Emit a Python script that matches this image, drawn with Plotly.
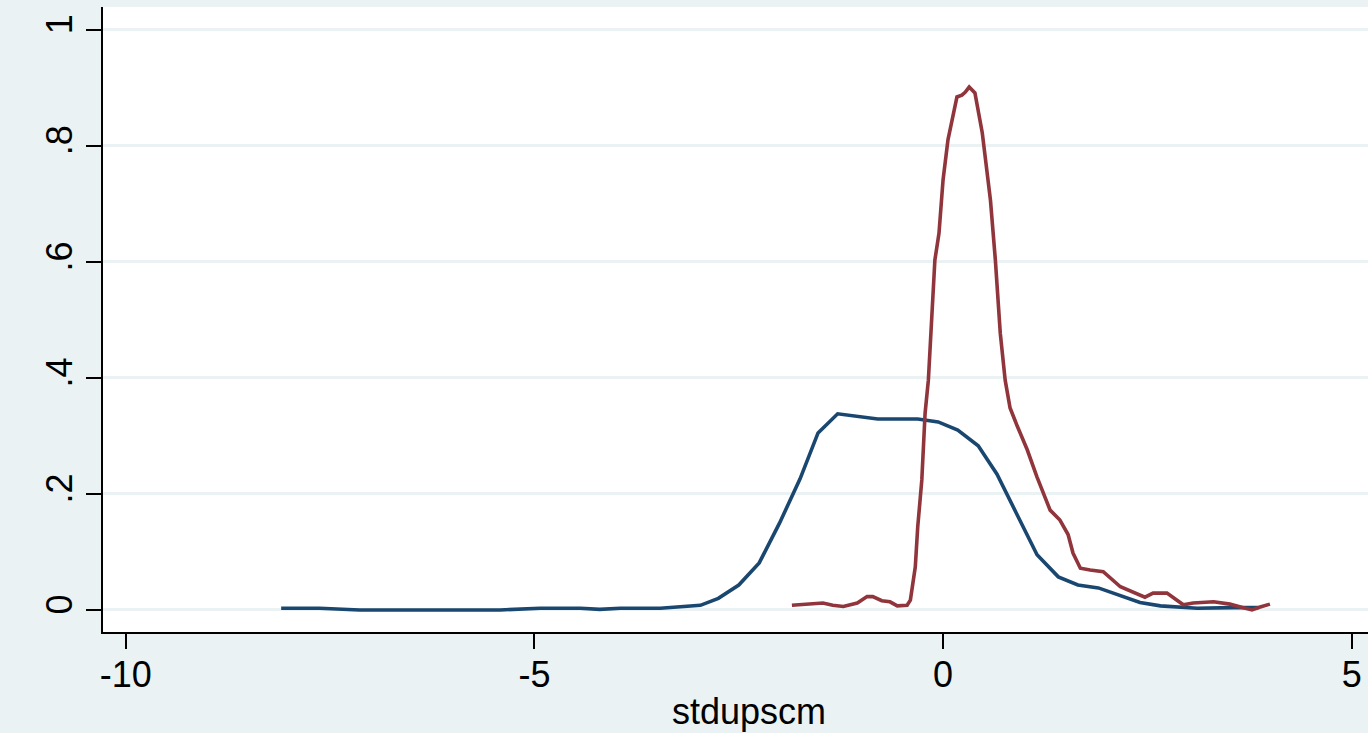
import plotly.graph_objects as go

# Blue density curve
blue_x = [-8.10, -7.63, -7.14, -6.65, -6.16, -5.67, -5.42, -4.93, -4.44, -4.20, -3.95,
          -3.46, -3.22, -2.97, -2.75, -2.50, -2.25, -2.00, -1.75, -1.53, -1.29, -0.80,
          -0.31, -0.06, 0.18, 0.43, 0.66, 0.92, 1.15, 1.41, 1.65, 1.90, 2.13, 2.41,
          2.66, 2.90, 3.11, 3.55, 3.86]
blue_y = [0.003, 0.003, 0.000, 0.000, 0.000, 0.000, 0.000, 0.003, 0.003, 0.001, 0.003,
          0.003, 0.005, 0.008, 0.020, 0.043, 0.081, 0.150, 0.226, 0.305, 0.338, 0.329,
          0.329, 0.324, 0.310, 0.283, 0.234, 0.160, 0.095, 0.057, 0.043, 0.038, 0.027,
          0.013, 0.007, 0.005, 0.003, 0.004, 0.004]

# Red density curve
red_x = [-1.85, -1.59, -1.47, -1.35, -1.22, -1.05, -0.93, -0.86, -0.75, -0.65, -0.56,
         -0.44, -0.40, -0.34, -0.31, -0.26, -0.22, -0.18, -0.16, -0.10, -0.05, 0.00,
         0.06, 0.11, 0.17, 0.23, 0.27, 0.32, 0.39, 0.48, 0.58, 0.64, 0.70, 0.76, 0.82,
         0.91, 1.03, 1.15, 1.31, 1.43, 1.53, 1.59, 1.68, 1.80, 1.96, 2.17, 2.33, 2.47,
         2.57, 2.74, 2.94, 3.06, 3.31, 3.51, 3.64, 3.78, 3.88, 4.00]
red_y = [0.008, 0.010, 0.012, 0.008, 0.006, 0.012, 0.023, 0.023, 0.016, 0.014, 0.007,
         0.008, 0.017, 0.074, 0.143, 0.224, 0.339, 0.396, 0.443, 0.603, 0.649, 0.741,
         0.810, 0.844, 0.884, 0.887, 0.892, 0.901, 0.891, 0.822, 0.706, 0.603, 0.477,
         0.396, 0.348, 0.316, 0.276, 0.229, 0.172, 0.155, 0.130, 0.098, 0.072, 0.069,
         0.066, 0.040, 0.031, 0.022, 0.029, 0.029, 0.009, 0.012, 0.014, 0.010, 0.005,
         0.000, 0.005, 0.010]

x_ticks = [-10, -5, 0, 5]
x_ticklabels = ["-10", "-5", "0", "5"]
y_ticks = [0, 0.2, 0.4, 0.6, 0.8, 1]
y_ticklabels = ["0", ".2", ".4", ".6", ".8", "1"]
x_title = "stdupscm"

BG = "#eaf2f3"
FONT = "Liberation Sans, Arial, sans-serif"

fig = go.Figure()
fig.add_trace(go.Scatter(x=blue_x, y=blue_y, mode="lines",
                         line=dict(color="#1a476f", width=3.6), showlegend=False))
fig.add_trace(go.Scatter(x=red_x, y=red_y, mode="lines",
                         line=dict(color="#90353b", width=3.6), showlegend=False))

fig.update_layout(
    width=1368, height=733,
    paper_bgcolor=BG, plot_bgcolor="white",
    margin=dict(l=103, r=0, t=7, b=101),
    font=dict(family=FONT, size=36, color="black"),
    showlegend=False,
    xaxis=dict(range=[-10.28, 5.20], tickvals=x_ticks, ticktext=x_ticklabels,
               automargin=False,
               showgrid=False, zeroline=False, showline=True, linecolor="black",
               linewidth=2, ticks="outside", ticklen=15, tickwidth=2,
               tickcolor="black", ticklabelstandoff=-5,
               tickfont=dict(family=FONT, size=36, color="black")),
    yaxis=dict(range=[-0.038, 1.039], tickvals=y_ticks, ticktext=y_ticklabels,
               automargin=False,
               showgrid=True, gridcolor=BG, gridwidth=3, zeroline=False,
               showline=True, linecolor="black", linewidth=2, ticks="outside",
               ticklen=15, tickwidth=2, tickcolor="black", tickangle=-90,
               ticklabelstandoff=0,
               tickfont=dict(family=FONT, size=36, color="black")),
    annotations=[dict(text=x_title, xref="paper", yref="paper", x=0.5107, y=-0.127,
                      xanchor="center", yanchor="middle", showarrow=False,
                      font=dict(family=FONT, size=36, color="black"))],
)

fig.write_html(
    "out.html",
    config={"displayModeBar": False},
    post_script="document.body.style.margin='0';document.body.style.background='#eaf2f3';document.body.style.overflow='hidden';",
)
